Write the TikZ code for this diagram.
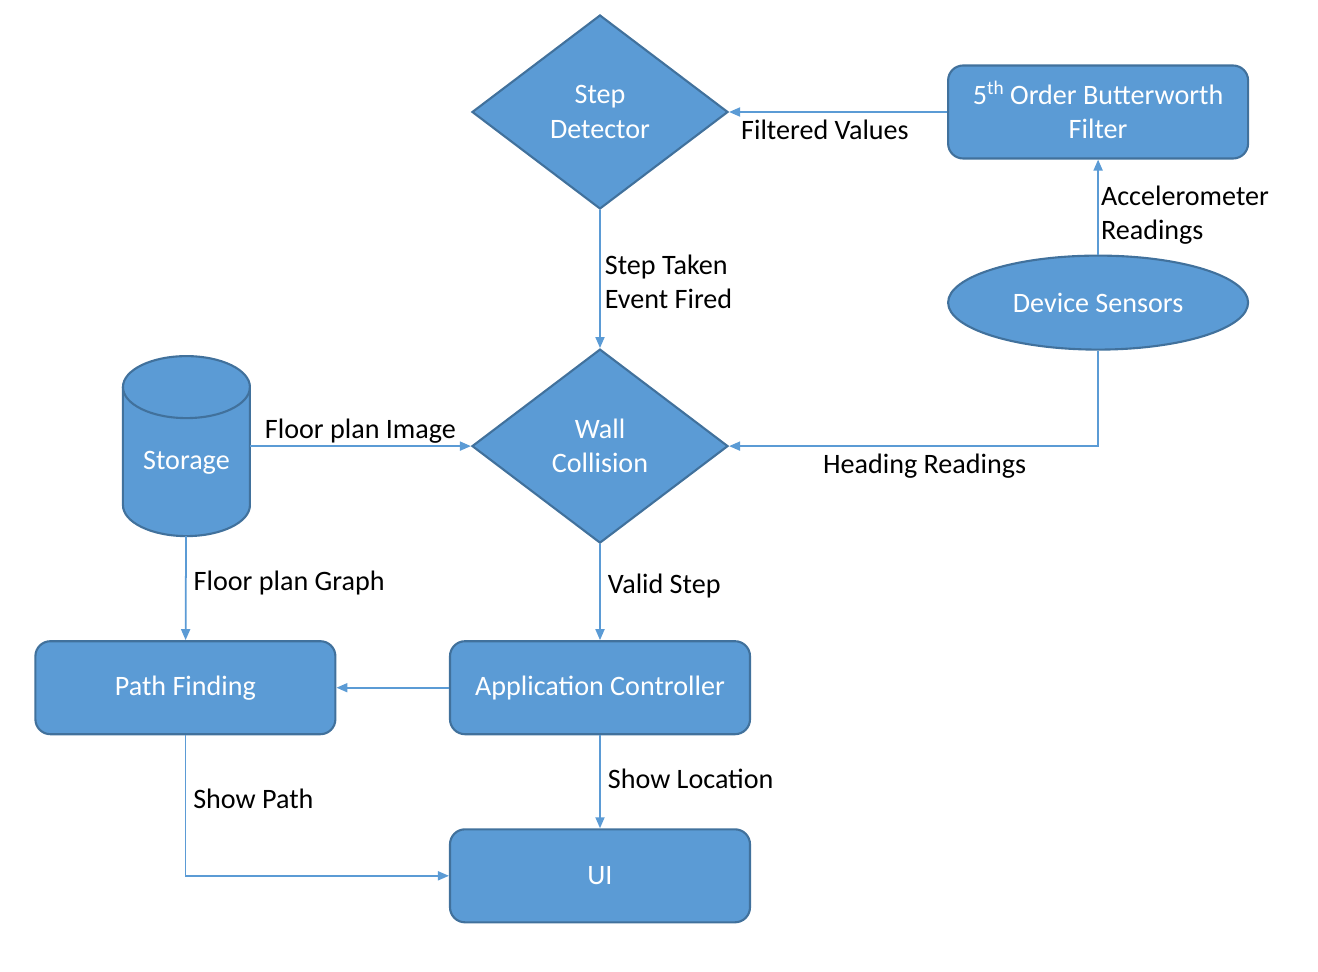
\documentclass[tikz,border=0pt]{standalone}
\usepackage{fontspec}
\setmainfont{Carlito}
\usepackage{xcolor}
\usepackage{tikz}
\usetikzlibrary{shapes,arrows.meta,positioning,calc}
\definecolor{boxblue}{HTML}{5B9BD5}
\definecolor{edgeblue}{HTML}{41719C}

\begin{document}
\begin{tikzpicture}[
    font=\fontsize{8}{9.7}\selectfont,
    process/.style={rectangle, draw=edgeblue, fill=boxblue, line width=0.6pt, minimum width=3cm, minimum height=0.93cm, text centered, rounded corners=0.15cm, text=white, align=center},
    decision/.style={diamond, draw=edgeblue, fill=boxblue, line width=0.6pt, minimum width=2.56cm, minimum height=1.94cm, inner sep=0pt, text=white, align=center},
    sensor/.style={ellipse, draw=edgeblue, fill=boxblue, line width=0.6pt, minimum width=3cm, minimum height=0.94cm, inner sep=0pt, text=white},
    store/.style={rectangle, minimum width=1.27cm, minimum height=1.8cm, inner sep=0pt, outer sep=0pt},
    cyl/.style={draw=edgeblue, fill=boxblue, line width=0.6pt},
    arrow/.style={-{Triangle[length=1.1mm, width=0.9mm]}, draw=boxblue, line width=0.5pt},
    edgetext/.style={text=black, align=left, inner sep=2pt}
]
    \useasboundingbox (0,0) rectangle (13.18,9.72);

    % Detection
    \node[decision] (step) at (6,8.6) {Step\\Detector};
    \node[process, right=2.18cm of step] (filter) {5\smash{\raisebox{0.75ex}{\fontsize{5.5}{6}\selectfont th}} Order Butterworth\\Filter};
    \node[sensor, below=0.95cm of filter] (sensors) {Device Sensors};

    % Collision and storage
    \node[decision, below=1.38cm of step] (wall) {Wall\\Collision};
    \node[store, left=2.21cm of wall] (storage) {};
    \draw[cyl] ([yshift=-0.31cm]storage.north west) -- ([yshift=0.31cm]storage.south west)
        arc[start angle=180, end angle=360, x radius=0.635cm, y radius=0.31cm]
        -- ([yshift=-0.31cm]storage.north east)
        arc[start angle=0, end angle=180, x radius=0.635cm, y radius=0.31cm] -- cycle;
    \draw[cyl, fill=none] ([yshift=-0.31cm]storage.north west)
        arc[start angle=180, end angle=360, x radius=0.635cm, y radius=0.31cm];
    \node[text=white] (storagetxt) at ([yshift=-0.17cm]storage.center) {Storage};

    % Application
    \node[process, below=0.96cm of wall] (appctrl) {Application Controller};
    \node[process, left=1.125cm of appctrl] (pathfind) {Path Finding};
    \node[process, below=0.93cm of appctrl] (ui) {UI};

    % Arrows
    \draw[arrow] (filter) -- node[below, edgetext, pos=0.56] (fvtxt) {Filtered Values} (step);
    \draw[arrow] (sensors) -- node[right, edgetext, xshift=-0.05cm, yshift=-0.08cm] (acctxt) {Accelerometer\\Readings} (filter);
    \draw[arrow] (step) -- node[right, edgetext, xshift=-0.03cm, yshift=-0.03cm] (steptxt) {Step Taken\\Event Fired} (wall);
    \draw[arrow] (storage) -- node[above, edgetext, yshift=-0.05cm] (imgtxt) {Floor plan Image} (wall);
    \draw[arrow] (sensors) |- node[below, edgetext, pos=0.735] (headtxt) {Heading Readings} (wall);
    \draw[arrow] (wall) -- node[right, edgetext, yshift=0.06cm] (validtxt) {Valid Step} (appctrl);
    \draw[arrow] (storage) -- node[right, edgetext, yshift=0.05cm] (graphtxt) {Floor plan Graph} (pathfind);
    \draw[arrow] (appctrl) -- (pathfind);
    \draw[arrow] (pathfind) |- node[right, edgetext, pos=0.25, yshift=0.07cm] (pathtxt) {Show Path} (ui);
    \draw[arrow] (appctrl) -- node[right, edgetext, yshift=0.03cm] (loctxt) {Show Location} (ui);
\end{tikzpicture}
\end{document}
